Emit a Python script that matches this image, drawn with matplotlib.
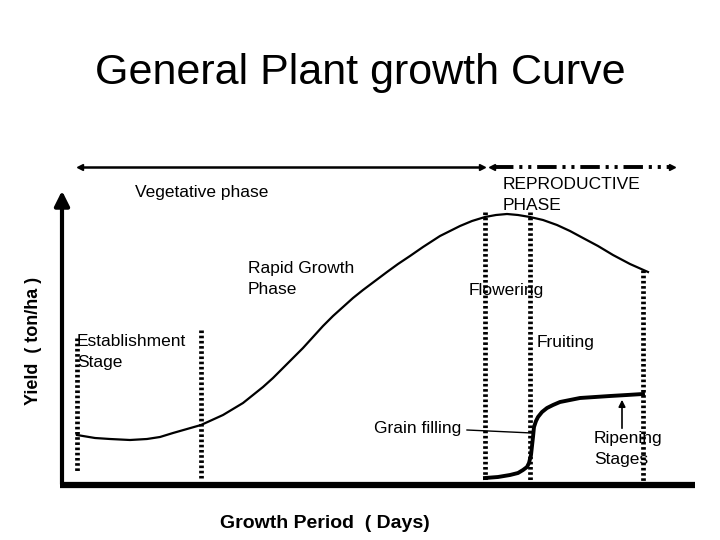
import matplotlib
matplotlib.use('Agg')
import matplotlib.pyplot as plt

plt.rcParams['font.family'] = ['Liberation Sans', 'DejaVu Sans']

# diagram drawn in pixel space of a 720x540 picture (y grows downward)
title = 'General Plant growth Curve'
x_label = 'Growth Period  ( Days)'
y_label = 'Yield  ( ton/ha )'

# main growth curve
growth_x = [77, 95, 110, 130, 147, 160, 173, 187, 201, 212, 223, 233, 243, 253, 263, 273, 283, 293, 303,
            313, 323, 333, 343, 353, 363, 375, 387, 398, 410, 423, 440, 460, 472, 485, 496, 507, 518,
            530, 543, 557, 570, 583, 598, 613, 630, 648]
growth_y = [435, 438, 439, 440, 439, 437, 433, 429, 425, 420, 415, 409, 403, 395, 387, 378, 368, 358, 348,
            337, 326, 316, 307, 298, 290, 281, 272, 264, 256, 247, 236, 226, 221, 217, 215, 214, 215,
            217, 220, 225, 231, 238, 246, 255, 264, 272]

# grain filling / fruit curve
fruit_x = [485, 498, 510, 518, 523, 527, 529, 531, 532, 533, 534, 536, 538, 542, 547, 553, 560, 570, 580, 595, 610, 627, 643]
fruit_y = [478, 477, 475, 473, 470, 467, 463, 455, 446, 437, 427, 421, 417, 412, 408, 405, 402, 400, 398, 397, 396, 395, 394]

# stage boundaries: x, top, bottom
stage_x = [77, 201, 485, 530, 643]
stage_top = [338, 330, 212, 212, 270]
stage_bottom = [471, 478, 482, 482, 482]

labels = [
    ('Vegetative phase', 135, 193),
    ('REPRODUCTIVE\nPHASE', 503, 195),
    ('Rapid Growth\nPhase', 248, 279),
    ('Flowering', 469, 291),
    ('Establishment\nStage', 77, 352),
    ('Fruiting', 537, 342),
    ('Grain filling', 374, 428),
    ('Ripening\nStages', 594, 449),
]

fig = plt.figure(figsize=(7.2, 5.4), dpi=100)
ax = fig.add_axes([0, 0, 1, 1])
ax.set_xlim(0, 720)
ax.set_ylim(540, 0)
ax.axis('off')

ax.text(360, 84, title, fontsize=31, ha='center', va='baseline')

# axes of the diagram
ax.plot([60, 695], [485, 485], color='black', lw=4.5, solid_capstyle='butt')
ax.annotate('', xy=(62, 188), xytext=(62, 487),
            arrowprops=dict(arrowstyle='-|>', lw=3, color='black', mutation_scale=22))
ax.text(34, 341, y_label, fontsize=13, fontweight='bold', rotation=90, ha='center', va='center')
ax.text(325, 524, x_label, fontsize=14, fontweight='bold', ha='center', va='center')

# phase arrows
ax.plot([80, 482], [167, 167], color='black', lw=1.8)
ax.plot([80], [167], marker='<', color='black', ms=5)
ax.plot([482], [167], marker='>', color='black', ms=5)
ax.plot([494, 670], [167, 167], color='black', lw=2.8, linestyle=(0, (5, 1.5, 0.8, 1.5, 0.8, 1.5)))
ax.plot([492], [167], marker='<', color='black', ms=5)
ax.plot([672], [167], marker='>', color='black', ms=5)

# stage boundaries
for sx, top, bot in zip(stage_x, stage_top, stage_bottom):
    ax.plot([sx, sx], [top, bot], color='black', lw=3.4, linestyle=(0, (0.55, 0.55)))

ax.plot(growth_x, growth_y, color='black', lw=1.6)
ax.plot(fruit_x, fruit_y, color='black', lw=2.8)

ax.plot([467, 532], [430, 433], color='black', lw=1)
ax.annotate('', xy=(622, 397), xytext=(622, 431),
            arrowprops=dict(arrowstyle='-|>', lw=1.2, color='black', mutation_scale=10))

for txt, lx, ly in labels:
    ax.text(lx, ly, txt, fontsize=12.5, ha='left', va='center', linespacing=1.45)

fig.savefig('out.png', dpi=100)
